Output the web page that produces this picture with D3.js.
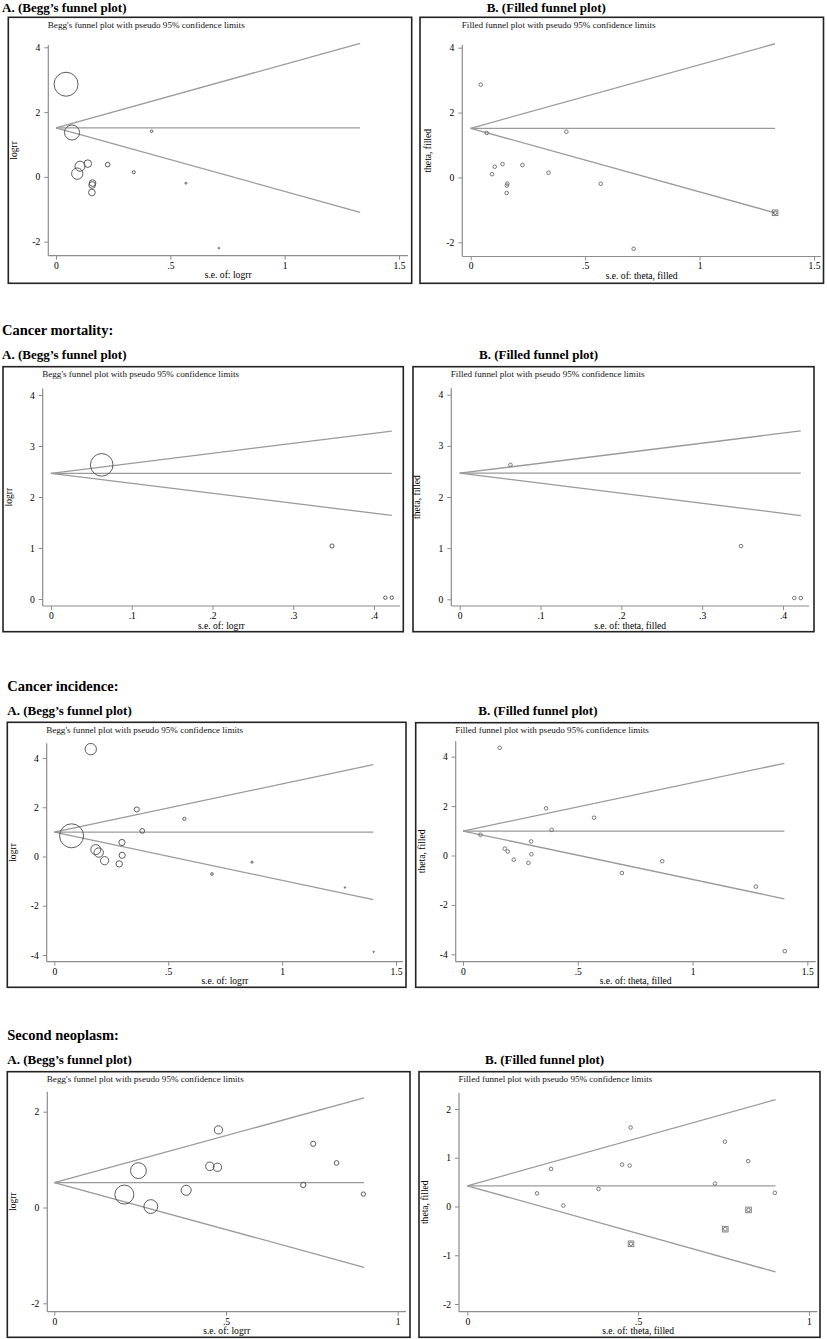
<!DOCTYPE html>
<html>
<head>
<meta charset="utf-8">
<script src="https://cdn.jsdelivr.net/npm/d3@7"></script>
<style>
  body { margin: 0; background: #fff; }
  svg { display: block; font-family: "Liberation Serif", "DejaVu Serif", serif; }
</style>
</head>
<body>
<svg id="chart" width="827" height="1339"></svg>
<script>
// ---- data ----
// outcome 1 (no heading)
const se1 = [0.044, 0.070, 0.093, 0.105, 0.139, 0.226, 0.160, 0.158, 0.157, 0.340, 0.418, 0.568, 0.712];
const logrr1 = [2.86, 1.37, 0.10, 0.33, 0.41, 0.38, -0.19, -0.25, -0.48, 0.145, 1.41, -0.195, -2.20];
const filledSE1 = [1.33];
const filledTheta1 = [-1.09];
const pooled1 = [1.515, 1.515];   // Begg, filled
const maxSE1 = 1.33;

// cancer mortality
const se2 = [0.0628, 0.348, 0.414, 0.422];
const logrr2 = [2.63, 1.04, 0.025, 0.025];
const pooled2 = [2.465, 2.465];
const maxSE2 = 0.422;

// cancer incidence
const se3 = [0.160, 0.076, 0.362, 0.571, 0.386, 0.297, 0.182, 0.195, 0.221, 0.298, 0.285, 0.692, 0.868, 1.276, 1.402];
const logrr3 = [4.36, 0.84, 1.91, 1.53, 1.04, 0.57, 0.28, 0.16, -0.17, 0.05, -0.30, -0.71, -0.23, -1.26, -3.87];
const pooled3 = [0.99, 0.99];
const maxSE3 = 1.40;

// second neoplasm
const se4 = [0.478, 0.754, 0.822, 0.453, 0.475, 0.245, 0.725, 0.384, 0.900, 0.204, 0.281];
const logrr4 = [1.62, 1.33, 0.93, 0.86, 0.84, 0.77, 0.47, 0.36, 0.28, 0.27, 0.02];
const filledSE4 = [0.479, 0.755, 0.823];
const filledTheta4 = [-0.765, -0.465, -0.07];
const pooled4 = [0.52, 0.425];
const maxSE4 = 0.902;

const xTicksWide = [0, 0.5, 1, 1.5];
const xTicksNarrow = [0, 0.1, 0.2, 0.3, 0.4];
const xTicksUnit = [0, 0.5, 1];
const yTicks1 = [-2, 0, 2, 4];
const yTicks2 = [0, 1, 2, 3, 4];
const yTicks3 = [-4, -2, 0, 2, 4];
const yTicks4A = [-2, 0, 2];
const yTicks4B = [-2, -1, 0, 1, 2];

const headings = ["Cancer mortality:", "Cancer incidence:", "Second neoplasm:"];
const titleA = "A. (Begg\u2019s funnel plot)";
const titleB = "B. (Filled funnel plot)";
const subA = "Begg's funnel plot with pseudo 95% confidence limits";
const subB = "Filled funnel plot with pseudo 95% confidence limits";

// ---- layout ----
const svg = d3.select("#chart");
svg.append("rect").attr("width", 827).attr("height", 1339).attr("fill", "#fff");

const texts = [
  // [text, x, y, size]
  [titleA, 2, 12, 13], [titleB, 486.7, 12, 13],
  [headings[0], 2, 335, 14.5], [titleA, 2, 359.3, 13], [titleB, 479, 359.3, 13],
  [headings[1], 7.3, 691, 14.5], [titleA, 7.3, 715, 13], [titleB, 478.3, 715, 13],
  [headings[2], 7.3, 1040, 14.5], [titleA, 7.3, 1064, 13], [titleB, 485, 1064, 13]
];
svg.selectAll(".head").data(texts).join("text")
  .attr("class", "head")
  .attr("x", d => d[1]).attr("y", d => d[2])
  .attr("font-size", d => d[3]).attr("font-weight", "bold")
  .attr("fill", "#000")
  .text(d => d[0]);

const panels = [
  {frame: [8.3, 17.3, 411.7, 283.3], ax: 48.3, ay: 255.7, yTop: 45, xEnd: 408,
   xd: [0, 1.5], xr: [56, 399], yd: [-2, 4], yr: [241.7, 47.3], xt: xTicksWide, yt: yTicks1,
   se: se1, est: logrr1, center: pooled1[0], maxSE: maxSE1, kind: "A", maxR: 12},
  {frame: [420, 17.3, 823.5, 283.3], ax: 462.3, ay: 256.5, yTop: 45, xEnd: 821,
   xd: [0, 1.5], xr: [470.7, 814], yd: [-2, 4], yr: [242.3, 47.7], xt: xTicksWide, yt: yTicks1,
   se: se1, est: logrr1, fse: filledSE1, fest: filledTheta1, center: pooled1[1], maxSE: maxSE1, kind: "B"},

  {frame: [3, 366.7, 403.3, 631.7], ax: 42.7, ay: 606, yTop: 388.3, xEnd: 400,
   xd: [0, 0.4], xr: [51, 374], yd: [0, 4], yr: [599, 395], xt: xTicksNarrow, yt: yTicks2,
   se: se2, est: logrr2, center: pooled2[0], maxSE: maxSE2, kind: "A", maxR: 11.3},
  {frame: [413, 366.7, 814, 631.7], ax: 451.3, ay: 606, yTop: 388.3, xEnd: 809,
   xd: [0, 0.4], xr: [459.7, 783], yd: [0, 4], yr: [599.3, 394.7], xt: xTicksNarrow, yt: yTicks2,
   se: se2, est: logrr2, center: pooled2[1], maxSE: maxSE2, kind: "B"},

  {frame: [7.3, 722.3, 406, 987.3], ax: 46.7, ay: 961.7, yTop: 743.3, xEnd: 403,
   xd: [0, 1.5], xr: [54.3, 396], yd: [-4, 4], yr: [955, 758], xt: xTicksWide, yt: yTicks3,
   se: se3, est: logrr3, center: pooled3[0], maxSE: maxSE3, kind: "A", maxR: 12},
  {frame: [415.7, 722.7, 818.3, 987.3], ax: 455.7, ay: 961.7, yTop: 741, xEnd: 815.7,
   xd: [0, 1.5], xr: [463, 807.3], yd: [-4, 4], yr: [954.3, 756.7], xt: xTicksWide, yt: yTicks3,
   se: se3, est: logrr3, center: pooled3[1], maxSE: maxSE3, kind: "B"},

  {frame: [7.3, 1071.7, 410, 1337.3], ax: 47.3, ay: 1311.7, yTop: 1091.7, xEnd: 406,
   xd: [0, 1], xr: [54.3, 397.7], yd: [-2, 2], yr: [1303.3, 1111.7], xt: xTicksUnit, yt: yTicks4A,
   se: se4, est: logrr4, center: pooled4[0], maxSE: maxSE4, kind: "A", maxR: 9.5},
  {frame: [419, 1071.7, 820, 1337.3], ax: 459, ay: 1311.7, yTop: 1092.7, xEnd: 817.3,
   xd: [0, 1], xr: [467.3, 809], yd: [-2, 2], yr: [1304, 1109], xt: xTicksUnit, yt: yTicks4B,
   se: se4, est: logrr4, fse: filledSE4, fest: filledTheta4, center: pooled4[1], maxSE: maxSE4, kind: "B"}
];

// stata style tick labels: .5 instead of 0.5
const fmt = v => String(v).replace(/^(-?)0\./, "$1.");
const axisCol = "#8c8c8c";

panels.forEach(p => {
  const g = svg.append("g");
  const [fx0, fy0, fx1, fy1] = p.frame;
  const x = d3.scaleLinear().domain(p.xd).range(p.xr);
  const y = d3.scaleLinear().domain(p.yd).range(p.yr);

  g.append("rect")
    .attr("x", fx0).attr("y", fy0)
    .attr("width", fx1 - fx0).attr("height", fy1 - fy0)
    .attr("fill", "none").attr("stroke", "#222").attr("stroke-width", 1.6);

  g.append("text")
    .attr("x", p.ax - 0.5).attr("y", fy0 + 10.5)
    .attr("font-size", 9.1).attr("fill", "#111")
    .text(p.kind === "A" ? subA : subB);

  // axes
  const yAxis = g.append("g").attr("transform", `translate(${p.ax},0)`)
    .call(d3.axisLeft(y).tickValues(p.yt).tickFormat(fmt).tickSize(4).tickPadding(4));
  const xAxis = g.append("g").attr("transform", `translate(0,${p.ay})`)
    .call(d3.axisBottom(x).tickValues(p.xt).tickFormat(fmt).tickSize(4).tickPadding(2));
  [yAxis, xAxis].forEach(a => {
    a.select(".domain").remove();
    a.selectAll("line").attr("stroke", axisCol).attr("stroke-width", 1);
    a.selectAll("text").attr("font-family", "Liberation Serif, serif")
      .attr("font-size", 9.6).attr("fill", "#000");
  });
  g.append("line").attr("x1", p.ax).attr("x2", p.ax).attr("y1", p.yTop).attr("y2", p.ay)
    .attr("stroke", axisCol).attr("stroke-width", 1.2);
  g.append("line").attr("x1", p.ax).attr("x2", p.xEnd).attr("y1", p.ay).attr("y2", p.ay)
    .attr("stroke", axisCol).attr("stroke-width", 1.2);

  // axis titles
  g.append("text")
    .attr("transform", `translate(${p.ax - 31},${(p.yTop + p.ay) / 2}) rotate(-90)`)
    .attr("text-anchor", "middle").attr("font-size", 9.6)
    .text(p.kind === "A" ? "logrr" : "theta, filled");
  g.append("text")
    .attr("x", (p.ax + p.xEnd) / 2).attr("y", p.ay + 22.5)
    .attr("text-anchor", "middle").attr("font-size", 9.6)
    .text(p.kind === "A" ? "s.e. of: logrr" : "s.e. of: theta, filled");

  // pseudo 95% confidence limits
  const z = 1.96;
  const funnel = [
    [[0, p.center], [p.maxSE, p.center + z * p.maxSE]],
    [[0, p.center], [p.maxSE, p.center]],
    [[0, p.center], [p.maxSE, p.center - z * p.maxSE]]
  ];
  const line = d3.line().x(d => x(d[0])).y(d => y(d[1]));
  g.selectAll(".funnel").data(funnel).join("path")
    .attr("class", "funnel")
    .attr("d", line)
    .attr("fill", "none").attr("stroke", "#9a9a9a").attr("stroke-width", 1.3);

  const pts = p.se.map((s, i) => ({se: s, v: p.est[i], w: 1 / (s * s)}));
  if (p.kind === "A") {
    const r = d3.scaleSqrt().domain([0, d3.max(pts, d => d.w)]).range([0, p.maxR]);
    g.selectAll(".pt").data(pts).join("circle")
      .attr("class", "pt")
      .attr("cx", d => x(d.se)).attr("cy", d => y(d.v))
      .attr("r", d => Math.max(0.6, r(d.w)))
      .attr("fill", "none").attr("stroke", "#4a4a4a").attr("stroke-width", 0.9);
  } else {
    g.selectAll(".pt").data(pts).join("circle")
      .attr("class", "pt")
      .attr("cx", d => x(d.se)).attr("cy", d => y(d.v))
      .attr("r", 1.8)
      .attr("fill", "none").attr("stroke", "#6a6a6a").attr("stroke-width", 0.9);
    if (p.fse) {
      const fpts = p.fse.map((s, i) => ({se: s, v: p.fest[i]}));
      g.selectAll(".fsq").data(fpts).join("rect")
        .attr("class", "fsq")
        .attr("x", d => x(d.se) - 2.8).attr("y", d => y(d.v) - 2.8)
        .attr("width", 5.6).attr("height", 5.6)
        .attr("fill", "none").attr("stroke", "#7a7a7a").attr("stroke-width", 0.9);
      g.selectAll(".fpt").data(fpts).join("circle")
        .attr("class", "fpt")
        .attr("cx", d => x(d.se)).attr("cy", d => y(d.v))
        .attr("r", 1.8)
        .attr("fill", "none").attr("stroke", "#6a6a6a").attr("stroke-width", 0.9);
    }
  }
});
</script>
</body>
</html>
